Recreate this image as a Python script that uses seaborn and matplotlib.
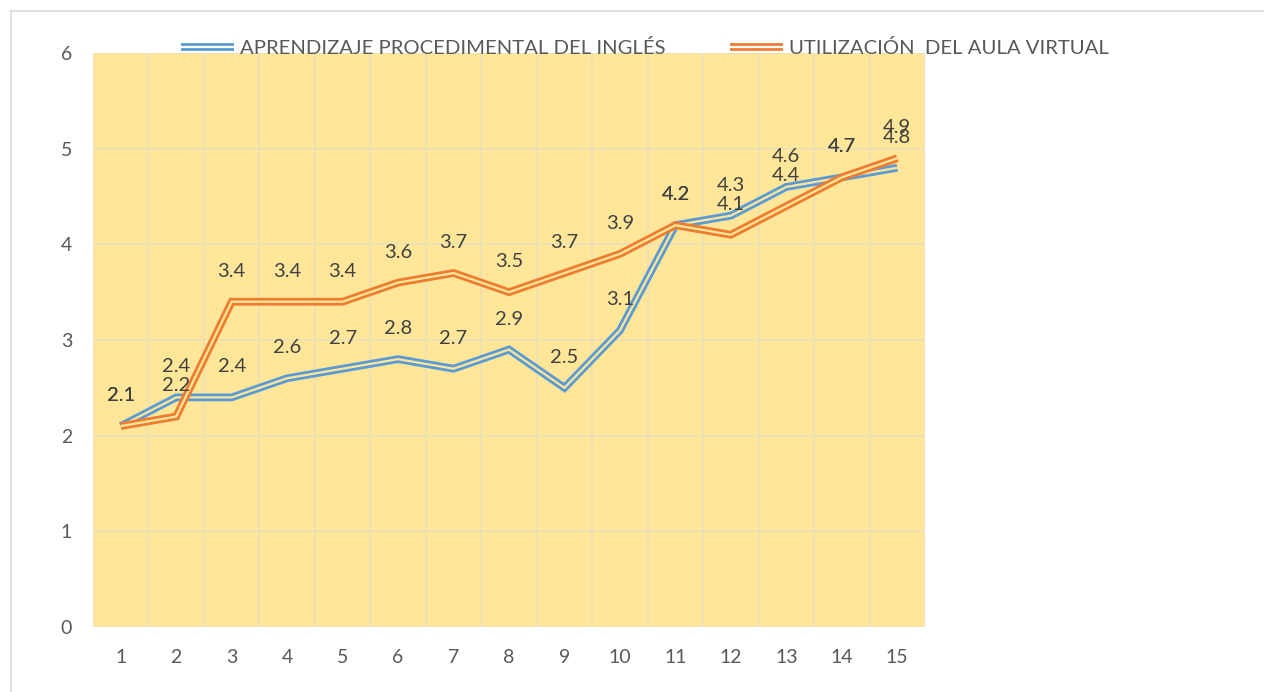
import matplotlib
matplotlib.use("Agg")
import matplotlib.pyplot as plt
import matplotlib.patheffects as pe
from matplotlib.lines import Line2D
import seaborn as sns
import pandas as pd
import numpy as np

# ---- data ----
categories = list(range(1, 16))
aprendizaje = [2.1, 2.4, 2.4, 2.6, 2.7, 2.8, 2.7, 2.9, 2.5, 3.1, 4.2, 4.3, 4.6, 4.7, 4.8]
utilizacion = [2.1, 2.2, 3.4, 3.4, 3.4, 3.6, 3.7, 3.5, 3.7, 3.9, 4.2, 4.1, 4.4, 4.7, 4.9]
series_names = ["APRENDIZAJE PROCEDIMENTAL DEL INGLÉS", "UTILIZACIÓN  DEL AULA VIRTUAL"]
y_ticks = [0, 1, 2, 3, 4, 5, 6]

colors = ["#5B9BD5", "#ED7D31"]
bg = "#FFE699"
grid_c = "#EADFB8"
text_c = "#595959"
label_c = "#404040"

sns.set_theme(style="white")
plt.rcParams["font.family"] = ["Lato", "DejaVu Sans"]

df = pd.DataFrame({
    "x": categories * 2,
    "y": aprendizaje + utilizacion,
    "serie": [series_names[0]] * len(categories) + [series_names[1]] * len(categories),
})

fig = plt.figure(figsize=(12.64, 6.92), dpi=100)
fig.patch.set_facecolor("white")
ax = fig.add_axes([93 / 1264, 1 - 627 / 692, (925 - 93) / 1264, (627 - 53) / 692])
ax.set_facecolor(bg)

sns.lineplot(data=df, x="x", y="y", hue="serie", palette=colors, ax=ax,
             legend=False, linewidth=1.5, sort=False)

for line, c in zip(ax.get_lines(), colors):
    line.set_color(bg)
    line.set_linewidth(1.6)
    line.set_path_effects([pe.Stroke(linewidth=5.6, foreground=c), pe.Normal()])
    line.set_solid_joinstyle("miter")
    line.set_solid_capstyle("butt")

# data labels
for vals in (aprendizaje, utilizacion):
    for xi, yi in zip(categories, vals):
        ax.annotate(f"{yi:.1f}", (xi, yi), xytext=(0, 22), textcoords="offset points",
                    ha="center", va="center", fontsize=14.5, color=label_c)

ax.set_xlim(0.5, 15.5)
ax.set_ylim(0, 6)
ax.set_yticks(y_ticks)
ax.set_xticks(categories)
ax.set_xticks(np.arange(0.5, 16, 1), minor=True)
ax.grid(False)
ax.xaxis.grid(True, which="minor", color=grid_c, linewidth=1.2)
ax.yaxis.grid(True, which="major", color=grid_c, linewidth=1.2)
ax.set_axisbelow(True)
for s in ax.spines.values():
    s.set_visible(False)
ax.tick_params(axis="both", which="both", length=0, labelsize=14, labelcolor=text_c)
ax.tick_params(axis="y", pad=15)
ax.tick_params(axis="x", pad=16)
ax.set_xlabel("")
ax.set_ylabel("")

# legend
handles = [Line2D([0], [0], color="white", linewidth=1.6, solid_capstyle="butt",
                  path_effects=[pe.Stroke(linewidth=5.6, foreground=c, capstyle="butt"), pe.Normal()])
           for c in colors]
fig.legend(handles, series_names, loc="center", bbox_to_anchor=(645 / 1264, 1 - 48 / 692),
           ncol=2, frameon=False, fontsize=14.6, labelcolor=text_c,
           handlelength=2.6, handletextpad=0.3, columnspacing=3.2)

# outer border (left and top)
fig.add_artist(Line2D([11 / 1264, 11 / 1264], [0, 1 - 11 / 692], transform=fig.transFigure,
                      color="#D9D9D9", linewidth=1.2))
fig.add_artist(Line2D([11 / 1264, 1], [1 - 11 / 692, 1 - 11 / 692], transform=fig.transFigure,
                      color="#D9D9D9", linewidth=1.2))

fig.savefig("out.png", dpi=100, facecolor="white")
